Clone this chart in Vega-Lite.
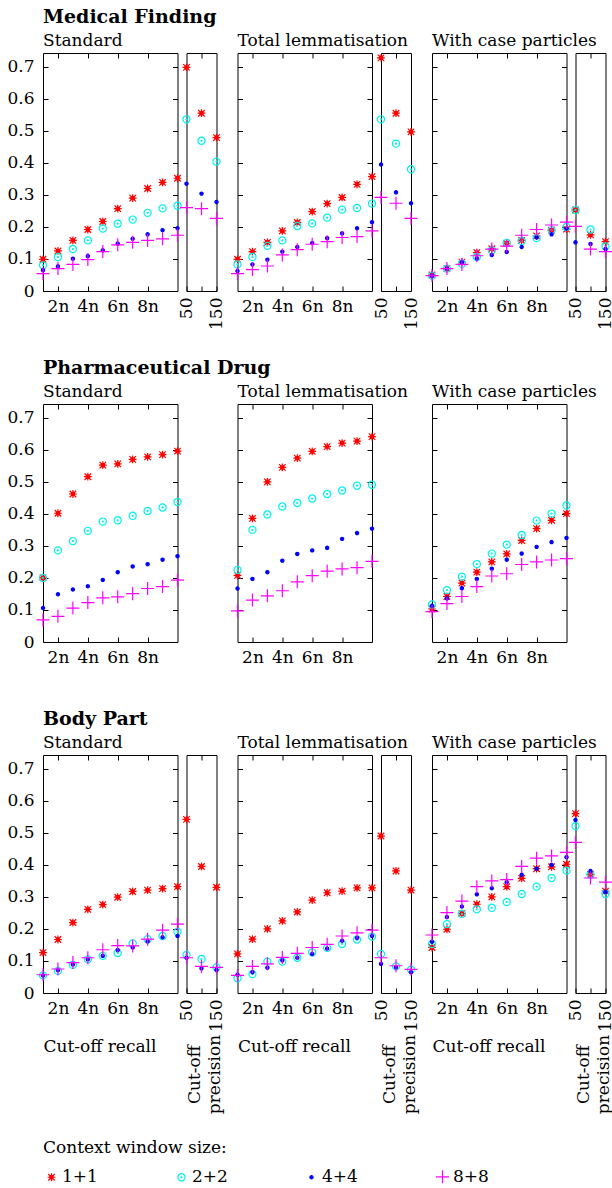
{
"$schema":"https://vega.github.io/schema/vega-lite/v6.json",
"background":"white",
"padding":{"left":6,"top":7,"right":0,"bottom":0},
"datasets":{"d":[
{"cat":"MF","method":"std","type":"recall","x":1,"1+1":0.099,"2+2":0.08,"4+4":0.065,"8+8":0.054},
{"cat":"MF","method":"std","type":"recall","x":2,"1+1":0.125,"2+2":0.106,"4+4":0.077,"8+8":0.07},
{"cat":"MF","method":"std","type":"recall","x":3,"1+1":0.158,"2+2":0.131,"4+4":0.101,"8+8":0.083},
{"cat":"MF","method":"std","type":"recall","x":4,"1+1":0.192,"2+2":0.158,"4+4":0.109,"8+8":0.098},
{"cat":"MF","method":"std","type":"recall","x":5,"1+1":0.217,"2+2":0.195,"4+4":0.127,"8+8":0.123},
{"cat":"MF","method":"std","type":"recall","x":6,"1+1":0.257,"2+2":0.21,"4+4":0.148,"8+8":0.144},
{"cat":"MF","method":"std","type":"recall","x":7,"1+1":0.29,"2+2":0.223,"4+4":0.163,"8+8":0.152},
{"cat":"MF","method":"std","type":"recall","x":8,"1+1":0.32,"2+2":0.244,"4+4":0.177,"8+8":0.158},
{"cat":"MF","method":"std","type":"recall","x":9,"1+1":0.339,"2+2":0.258,"4+4":0.19,"8+8":0.163},
{"cat":"MF","method":"std","type":"recall","x":10,"1+1":0.352,"2+2":0.266,"4+4":0.196,"8+8":0.174},
{"cat":"MF","method":"std","type":"precision","x":50,"1+1":0.698,"2+2":0.536,"4+4":0.335,"8+8":0.26},
{"cat":"MF","method":"std","type":"precision","x":100,"1+1":0.555,"2+2":0.469,"4+4":0.304,"8+8":0.257},
{"cat":"MF","method":"std","type":"precision","x":150,"1+1":0.479,"2+2":0.404,"4+4":0.278,"8+8":0.227},
{"cat":"MF","method":"lem","type":"recall","x":1,"1+1":0.099,"2+2":0.083,"4+4":0.0625,"8+8":0.054},
{"cat":"MF","method":"lem","type":"recall","x":2,"1+1":0.123,"2+2":0.106,"4+4":0.083,"8+8":0.067},
{"cat":"MF","method":"lem","type":"recall","x":3,"1+1":0.152,"2+2":0.141,"4+4":0.098,"8+8":0.078},
{"cat":"MF","method":"lem","type":"recall","x":4,"1+1":0.1875,"2+2":0.158,"4+4":0.123,"8+8":0.1125},
{"cat":"MF","method":"lem","type":"recall","x":5,"1+1":0.214,"2+2":0.203,"4+4":0.1375,"8+8":0.129},
{"cat":"MF","method":"lem","type":"recall","x":6,"1+1":0.248,"2+2":0.211,"4+4":0.15,"8+8":0.146},
{"cat":"MF","method":"lem","type":"recall","x":7,"1+1":0.273,"2+2":0.229,"4+4":0.165,"8+8":0.154},
{"cat":"MF","method":"lem","type":"recall","x":8,"1+1":0.292,"2+2":0.254,"4+4":0.18,"8+8":0.167},
{"cat":"MF","method":"lem","type":"recall","x":9,"1+1":0.333,"2+2":0.259,"4+4":0.196,"8+8":0.17},
{"cat":"MF","method":"lem","type":"recall","x":10,"1+1":0.357,"2+2":0.273,"4+4":0.215,"8+8":0.1875},
{"cat":"MF","method":"lem","type":"precision","x":50,"1+1":0.728,"2+2":0.536,"4+4":0.395,"8+8":0.292},
{"cat":"MF","method":"lem","type":"precision","x":100,"1+1":0.555,"2+2":0.46,"4+4":0.308,"8+8":0.274},
{"cat":"MF","method":"lem","type":"precision","x":150,"1+1":0.497,"2+2":0.38,"4+4":0.274,"8+8":0.227},
{"cat":"MF","method":"case","type":"recall","x":1,"1+1":0.05,"2+2":0.048,"4+4":0.047,"8+8":0.048},
{"cat":"MF","method":"case","type":"recall","x":2,"1+1":0.07,"2+2":0.07,"4+4":0.07,"8+8":0.07},
{"cat":"MF","method":"case","type":"recall","x":3,"1+1":0.09,"2+2":0.085,"4+4":0.09,"8+8":0.083},
{"cat":"MF","method":"case","type":"recall","x":4,"1+1":0.12,"2+2":0.106,"4+4":0.102,"8+8":0.11},
{"cat":"MF","method":"case","type":"recall","x":5,"1+1":0.132,"2+2":0.127,"4+4":0.1125,"8+8":0.131},
{"cat":"MF","method":"case","type":"recall","x":6,"1+1":0.149,"2+2":0.15,"4+4":0.122,"8+8":0.14},
{"cat":"MF","method":"case","type":"recall","x":7,"1+1":0.158,"2+2":0.156,"4+4":0.1375,"8+8":0.174},
{"cat":"MF","method":"case","type":"recall","x":8,"1+1":0.172,"2+2":0.165,"4+4":0.167,"8+8":0.192},
{"cat":"MF","method":"case","type":"recall","x":9,"1+1":0.19,"2+2":0.19,"4+4":0.177,"8+8":0.206},
{"cat":"MF","method":"case","type":"recall","x":10,"1+1":0.193,"2+2":0.2,"4+4":0.195,"8+8":0.215},
{"cat":"MF","method":"case","type":"precision","x":50,"1+1":0.253,"2+2":0.253,"4+4":0.152,"8+8":0.202},
{"cat":"MF","method":"case","type":"precision","x":100,"1+1":0.175,"2+2":0.192,"4+4":0.147,"8+8":0.131},
{"cat":"MF","method":"case","type":"precision","x":150,"1+1":0.154,"2+2":0.139,"4+4":0.131,"8+8":0.123},
{"cat":"PD","method":"std","type":"recall","x":1,"1+1":0.2,"2+2":0.2,"4+4":0.106,"8+8":0.069},
{"cat":"PD","method":"std","type":"recall","x":2,"1+1":0.402,"2+2":0.286,"4+4":0.149,"8+8":0.08},
{"cat":"PD","method":"std","type":"recall","x":3,"1+1":0.462,"2+2":0.315,"4+4":0.164,"8+8":0.106},
{"cat":"PD","method":"std","type":"recall","x":4,"1+1":0.516,"2+2":0.347,"4+4":0.174,"8+8":0.123},
{"cat":"PD","method":"std","type":"recall","x":5,"1+1":0.552,"2+2":0.376,"4+4":0.194,"8+8":0.138},
{"cat":"PD","method":"std","type":"recall","x":6,"1+1":0.556,"2+2":0.38,"4+4":0.218,"8+8":0.141},
{"cat":"PD","method":"std","type":"recall","x":7,"1+1":0.57,"2+2":0.394,"4+4":0.236,"8+8":0.151},
{"cat":"PD","method":"std","type":"recall","x":8,"1+1":0.578,"2+2":0.409,"4+4":0.243,"8+8":0.167},
{"cat":"PD","method":"std","type":"recall","x":9,"1+1":0.585,"2+2":0.42,"4+4":0.257,"8+8":0.173},
{"cat":"PD","method":"std","type":"recall","x":10,"1+1":0.596,"2+2":0.437,"4+4":0.268,"8+8":0.193},
{"cat":"PD","method":"lem","type":"recall","x":1,"1+1":0.208,"2+2":0.225,"4+4":0.167,"8+8":0.097},
{"cat":"PD","method":"lem","type":"recall","x":2,"1+1":0.386,"2+2":0.35,"4+4":0.197,"8+8":0.131},
{"cat":"PD","method":"lem","type":"recall","x":3,"1+1":0.5,"2+2":0.398,"4+4":0.218,"8+8":0.144},
{"cat":"PD","method":"lem","type":"recall","x":4,"1+1":0.545,"2+2":0.423,"4+4":0.254,"8+8":0.16},
{"cat":"PD","method":"lem","type":"recall","x":5,"1+1":0.574,"2+2":0.434,"4+4":0.275,"8+8":0.188},
{"cat":"PD","method":"lem","type":"recall","x":6,"1+1":0.595,"2+2":0.448,"4+4":0.286,"8+8":0.207},
{"cat":"PD","method":"lem","type":"recall","x":7,"1+1":0.61,"2+2":0.462,"4+4":0.294,"8+8":0.221},
{"cat":"PD","method":"lem","type":"recall","x":8,"1+1":0.621,"2+2":0.473,"4+4":0.322,"8+8":0.228},
{"cat":"PD","method":"lem","type":"recall","x":9,"1+1":0.627,"2+2":0.488,"4+4":0.34,"8+8":0.232},
{"cat":"PD","method":"lem","type":"recall","x":10,"1+1":0.641,"2+2":0.491,"4+4":0.354,"8+8":0.252},
{"cat":"PD","method":"case","type":"recall","x":1,"1+1":0.103,"2+2":0.117,"4+4":0.113,"8+8":0.095},
{"cat":"PD","method":"case","type":"recall","x":2,"1+1":0.142,"2+2":0.162,"4+4":0.136,"8+8":0.12},
{"cat":"PD","method":"case","type":"recall","x":3,"1+1":0.184,"2+2":0.204,"4+4":0.168,"8+8":0.142},
{"cat":"PD","method":"case","type":"recall","x":4,"1+1":0.218,"2+2":0.243,"4+4":0.197,"8+8":0.173},
{"cat":"PD","method":"case","type":"recall","x":5,"1+1":0.25,"2+2":0.276,"4+4":0.229,"8+8":0.206},
{"cat":"PD","method":"case","type":"recall","x":6,"1+1":0.275,"2+2":0.304,"4+4":0.257,"8+8":0.213},
{"cat":"PD","method":"case","type":"recall","x":7,"1+1":0.317,"2+2":0.334,"4+4":0.276,"8+8":0.242},
{"cat":"PD","method":"case","type":"recall","x":8,"1+1":0.354,"2+2":0.379,"4+4":0.297,"8+8":0.25},
{"cat":"PD","method":"case","type":"recall","x":9,"1+1":0.38,"2+2":0.401,"4+4":0.312,"8+8":0.256},
{"cat":"PD","method":"case","type":"recall","x":10,"1+1":0.401,"2+2":0.426,"4+4":0.325,"8+8":0.26},
{"cat":"BP","method":"std","type":"recall","x":1,"1+1":0.126,"2+2":0.055,"4+4":0.055,"8+8":0.057},
{"cat":"BP","method":"std","type":"recall","x":2,"1+1":0.167,"2+2":0.069,"4+4":0.071,"8+8":0.075},
{"cat":"BP","method":"std","type":"recall","x":3,"1+1":0.22,"2+2":0.088,"4+4":0.089,"8+8":0.095},
{"cat":"BP","method":"std","type":"recall","x":4,"1+1":0.261,"2+2":0.105,"4+4":0.105,"8+8":0.11},
{"cat":"BP","method":"std","type":"recall","x":5,"1+1":0.276,"2+2":0.116,"4+4":0.116,"8+8":0.135},
{"cat":"BP","method":"std","type":"recall","x":6,"1+1":0.299,"2+2":0.125,"4+4":0.134,"8+8":0.148},
{"cat":"BP","method":"std","type":"recall","x":7,"1+1":0.317,"2+2":0.155,"4+4":0.142,"8+8":0.147},
{"cat":"BP","method":"std","type":"recall","x":8,"1+1":0.321,"2+2":0.168,"4+4":0.161,"8+8":0.168},
{"cat":"BP","method":"std","type":"recall","x":9,"1+1":0.326,"2+2":0.178,"4+4":0.174,"8+8":0.196},
{"cat":"BP","method":"std","type":"recall","x":10,"1+1":0.332,"2+2":0.191,"4+4":0.178,"8+8":0.215},
{"cat":"BP","method":"std","type":"precision","x":50,"1+1":0.542,"2+2":0.119,"4+4":0.11,"8+8":0.11},
{"cat":"BP","method":"std","type":"precision","x":100,"1+1":0.395,"2+2":0.106,"4+4":0.077,"8+8":0.083},
{"cat":"BP","method":"std","type":"precision","x":150,"1+1":0.33,"2+2":0.08,"4+4":0.072,"8+8":0.08},
{"cat":"BP","method":"lem","type":"recall","x":1,"1+1":0.122,"2+2":0.046,"4+4":0.057,"8+8":0.055},
{"cat":"BP","method":"lem","type":"recall","x":2,"1+1":0.168,"2+2":0.059,"4+4":0.065,"8+8":0.083},
{"cat":"BP","method":"lem","type":"recall","x":3,"1+1":0.2,"2+2":0.098,"4+4":0.079,"8+8":0.091},
{"cat":"BP","method":"lem","type":"recall","x":4,"1+1":0.225,"2+2":0.098,"4+4":0.102,"8+8":0.111},
{"cat":"BP","method":"lem","type":"recall","x":5,"1+1":0.253,"2+2":0.11,"4+4":0.11,"8+8":0.124},
{"cat":"BP","method":"lem","type":"recall","x":6,"1+1":0.29,"2+2":0.127,"4+4":0.122,"8+8":0.142},
{"cat":"BP","method":"lem","type":"recall","x":7,"1+1":0.313,"2+2":0.141,"4+4":0.139,"8+8":0.152},
{"cat":"BP","method":"lem","type":"recall","x":8,"1+1":0.318,"2+2":0.153,"4+4":0.163,"8+8":0.178},
{"cat":"BP","method":"lem","type":"recall","x":9,"1+1":0.328,"2+2":0.167,"4+4":0.172,"8+8":0.188},
{"cat":"BP","method":"lem","type":"recall","x":10,"1+1":0.328,"2+2":0.176,"4+4":0.178,"8+8":0.196},
{"cat":"BP","method":"lem","type":"precision","x":50,"1+1":0.49,"2+2":0.122,"4+4":0.091,"8+8":0.11},
{"cat":"BP","method":"lem","type":"precision","x":100,"1+1":0.381,"2+2":0.083,"4+4":0.08,"8+8":0.085},
{"cat":"BP","method":"lem","type":"precision","x":150,"1+1":0.321,"2+2":0.073,"4+4":0.065,"8+8":0.074},
{"cat":"BP","method":"case","type":"recall","x":1,"1+1":0.142,"2+2":0.153,"4+4":0.16,"8+8":0.181},
{"cat":"BP","method":"case","type":"recall","x":2,"1+1":0.199,"2+2":0.215,"4+4":0.237,"8+8":0.251},
{"cat":"BP","method":"case","type":"recall","x":3,"1+1":0.248,"2+2":0.247,"4+4":0.27,"8+8":0.287},
{"cat":"BP","method":"case","type":"recall","x":4,"1+1":0.277,"2+2":0.261,"4+4":0.308,"8+8":0.332},
{"cat":"BP","method":"case","type":"recall","x":5,"1+1":0.3,"2+2":0.266,"4+4":0.327,"8+8":0.35},
{"cat":"BP","method":"case","type":"recall","x":6,"1+1":0.332,"2+2":0.284,"4+4":0.346,"8+8":0.354},
{"cat":"BP","method":"case","type":"recall","x":7,"1+1":0.358,"2+2":0.309,"4+4":0.369,"8+8":0.395},
{"cat":"BP","method":"case","type":"recall","x":8,"1+1":0.388,"2+2":0.332,"4+4":0.388,"8+8":0.421},
{"cat":"BP","method":"case","type":"recall","x":9,"1+1":0.394,"2+2":0.359,"4+4":0.4,"8+8":0.428},
{"cat":"BP","method":"case","type":"recall","x":10,"1+1":0.402,"2+2":0.382,"4+4":0.424,"8+8":0.439},
{"cat":"BP","method":"case","type":"precision","x":50,"1+1":0.56,"2+2":0.521,"4+4":0.54,"8+8":0.47},
{"cat":"BP","method":"case","type":"precision","x":100,"1+1":0.37,"2+2":0.37,"4+4":0.381,"8+8":0.359},
{"cat":"BP","method":"case","type":"precision","x":150,"1+1":0.318,"2+2":0.309,"4+4":0.315,"8+8":0.346}
]},
"bounds":"flush",
"columns":8,
"spacing":{"row":113,"column":8.5},
"concat":[
{"title":{"text":"Medical Finding","subtitle":"Standard"},"width":134.5,"height":238,"data":{"name":"d"},
"transform":[{"filter":"datum.cat=='MF'&&datum.method=='std'&&datum.type=='recall'"},{"fold":["1+1","2+2","4+4","8+8"],"as":["window","score"]}],
"layer":[
{"mark":{"type":"point","filled":true,"size":169,"strokeWidth":1.2,"opacity":1},
"encoding":{
"x":{"field":"x","type":"quantitative","scale":{"domain":[1,10],"nice":false,"zero":false},"axis":{"orient":"bottom","values":[2,4,6,8],"labelExpr":"datum.value+'n'","title":null}},
"y":{"field":"score","type":"quantitative","scale":{"domain":[0,0.743],"nice":false},"axis":{"orient":"left","values":[0,0.1,0.2,0.3,0.4,0.5,0.6,0.7],"format":"~g","title":null}},
"stroke":{"field":"window","type":"nominal","title":"Context window size:","scale":{"domain":["1+1","2+2","4+4","8+8"],"range":["#ff0000","#00f0f0","#0000ff","#ff00ff"]},"legend":{"orient":"none","legendX":0,"legendY":1087,"direction":"horizontal","columns":4,"columnPadding":75,"symbolSize":169,"symbolStrokeWidth":1.2,"labelFont":"DejaVu Serif","labelFontSize":17,"labelColor":"#000","titleFont":"DejaVu Serif","titleFontSize":17,"titleFontWeight":"normal","titleColor":"#000","titlePadding":11,"labelOffset":2,"titleLimit":0}},
"fill":{"field":"window","type":"nominal","title":"Context window size:","scale":{"domain":["1+1","2+2","4+4","8+8"],"range":["transparent","transparent","#0000ff","transparent"]},"legend":{"orient":"none","legendX":0,"legendY":1087,"direction":"horizontal","columns":4,"columnPadding":75,"symbolSize":169,"symbolStrokeWidth":1.2,"labelFont":"DejaVu Serif","labelFontSize":17,"labelColor":"#000","titleFont":"DejaVu Serif","titleFontSize":17,"titleFontWeight":"normal","titleColor":"#000","titlePadding":11,"labelOffset":2,"titleLimit":0}},
"shape":{"field":"window","type":"nominal","title":"Context window size:","scale":{"domain":["1+1","2+2","4+4","8+8"],"range":["M-0.5,-0.5L0.5,0.5M-0.5,0.5L0.5,-0.5M-0.6,0L0.6,0M0,-0.6L0,0.6M-0.25,-0.25L0.25,-0.25L0.25,0.25L-0.25,0.25Z","M0.55,0A0.55,0.55,0,1,1,-0.55,0A0.55,0.55,0,1,1,0.55,0ZM0.08,0A0.08,0.08,0,1,1,-0.08,0A0.08,0.08,0,1,1,0.08,0Z","M0.25,0A0.25,0.25,0,1,1,-0.25,0A0.25,0.25,0,1,1,0.25,0Z","M-1,0L1,0M0,-1L0,1"]},"legend":{"orient":"none","legendX":0,"legendY":1087,"direction":"horizontal","columns":4,"columnPadding":75,"symbolSize":169,"symbolStrokeWidth":1.2,"labelFont":"DejaVu Serif","labelFontSize":17,"labelColor":"#000","titleFont":"DejaVu Serif","titleFontSize":17,"titleFontWeight":"normal","titleColor":"#000","titlePadding":11,"labelOffset":2,"titleLimit":0}}}},
{"mark":{"type":"point","opacity":0},"encoding":{"x":{"field":"x","type":"quantitative","axis":{"orient":"top","values":[2,4,6,8],"labels":false,"title":null}},"y":{"field":"score","type":"quantitative","axis":{"orient":"right","values":[0.1,0.2,0.3,0.4,0.5,0.6,0.7],"labels":false,"title":null}}}}
],"resolve":{"axis":{"x":"independent","y":"independent"}}},
{"width":30,"height":238,"data":{"name":"d"},
"transform":[{"filter":"datum.cat=='MF'&&datum.method=='std'&&datum.type=='precision'"},{"fold":["1+1","2+2","4+4","8+8"],"as":["window","score"]}],
"layer":[
{"mark":{"type":"point","filled":true,"size":169,"strokeWidth":1.2,"opacity":1},
"encoding":{
"x":{"field":"x","type":"quantitative","scale":{"domain":[50,150],"nice":false,"zero":false},"axis":{"orient":"bottom","values":[50,100,150],"labelAngle":270,"labelPadding":11,"labelExpr":"datum.value==100?'':datum.label","title":null}},
"y":{"field":"score","type":"quantitative","scale":{"domain":[0,0.743],"nice":false},"axis":null},
"stroke":{"field":"window","type":"nominal","title":"Context window size:","scale":{"domain":["1+1","2+2","4+4","8+8"],"range":["#ff0000","#00f0f0","#0000ff","#ff00ff"]}},
"fill":{"field":"window","type":"nominal","title":"Context window size:","scale":{"domain":["1+1","2+2","4+4","8+8"],"range":["transparent","transparent","#0000ff","transparent"]}},
"shape":{"field":"window","type":"nominal","title":"Context window size:","scale":{"domain":["1+1","2+2","4+4","8+8"],"range":["M-0.5,-0.5L0.5,0.5M-0.5,0.5L0.5,-0.5M-0.6,0L0.6,0M0,-0.6L0,0.6M-0.25,-0.25L0.25,-0.25L0.25,0.25L-0.25,0.25Z","M0.55,0A0.55,0.55,0,1,1,-0.55,0A0.55,0.55,0,1,1,0.55,0ZM0.08,0A0.08,0.08,0,1,1,-0.08,0A0.08,0.08,0,1,1,0.08,0Z","M0.25,0A0.25,0.25,0,1,1,-0.25,0A0.25,0.25,0,1,1,0.25,0Z","M-1,0L1,0M0,-1L0,1"]}}}},
{"mark":{"type":"point","opacity":0},"encoding":{"x":{"field":"x","type":"quantitative","axis":{"orient":"top","values":[100],"labels":false,"title":null}}}}
],"resolve":{"axis":{"x":"independent"}}},
{"width":4,"height":238,"data":{"values":[{}]},"mark":{"type":"point","opacity":0},"encoding":{},"view":{"stroke":null}},
{"title":{"text":" ","subtitle":"Total lemmatisation"},"width":134.5,"height":238,"data":{"name":"d"},
"transform":[{"filter":"datum.cat=='MF'&&datum.method=='lem'&&datum.type=='recall'"},{"fold":["1+1","2+2","4+4","8+8"],"as":["window","score"]}],
"layer":[
{"mark":{"type":"point","filled":true,"size":169,"strokeWidth":1.2,"opacity":1},
"encoding":{
"x":{"field":"x","type":"quantitative","scale":{"domain":[1,10],"nice":false,"zero":false},"axis":{"orient":"bottom","values":[2,4,6,8],"labelExpr":"datum.value+'n'","title":null}},
"y":{"field":"score","type":"quantitative","scale":{"domain":[0,0.743],"nice":false},"axis":{"orient":"left","values":[0.1,0.2,0.3,0.4,0.5,0.6,0.7],"labels":false,"title":null}},
"stroke":{"field":"window","type":"nominal","title":"Context window size:","scale":{"domain":["1+1","2+2","4+4","8+8"],"range":["#ff0000","#00f0f0","#0000ff","#ff00ff"]}},
"fill":{"field":"window","type":"nominal","title":"Context window size:","scale":{"domain":["1+1","2+2","4+4","8+8"],"range":["transparent","transparent","#0000ff","transparent"]}},
"shape":{"field":"window","type":"nominal","title":"Context window size:","scale":{"domain":["1+1","2+2","4+4","8+8"],"range":["M-0.5,-0.5L0.5,0.5M-0.5,0.5L0.5,-0.5M-0.6,0L0.6,0M0,-0.6L0,0.6M-0.25,-0.25L0.25,-0.25L0.25,0.25L-0.25,0.25Z","M0.55,0A0.55,0.55,0,1,1,-0.55,0A0.55,0.55,0,1,1,0.55,0ZM0.08,0A0.08,0.08,0,1,1,-0.08,0A0.08,0.08,0,1,1,0.08,0Z","M0.25,0A0.25,0.25,0,1,1,-0.25,0A0.25,0.25,0,1,1,0.25,0Z","M-1,0L1,0M0,-1L0,1"]}}}},
{"mark":{"type":"point","opacity":0},"encoding":{"x":{"field":"x","type":"quantitative","axis":{"orient":"top","values":[2,4,6,8],"labels":false,"title":null}},"y":{"field":"score","type":"quantitative","axis":{"orient":"right","values":[0.1,0.2,0.3,0.4,0.5,0.6,0.7],"labels":false,"title":null}}}}
],"resolve":{"axis":{"x":"independent","y":"independent"}}},
{"width":30,"height":238,"data":{"name":"d"},
"transform":[{"filter":"datum.cat=='MF'&&datum.method=='lem'&&datum.type=='precision'"},{"fold":["1+1","2+2","4+4","8+8"],"as":["window","score"]}],
"layer":[
{"mark":{"type":"point","filled":true,"size":169,"strokeWidth":1.2,"opacity":1},
"encoding":{
"x":{"field":"x","type":"quantitative","scale":{"domain":[50,150],"nice":false,"zero":false},"axis":{"orient":"bottom","values":[50,100,150],"labelAngle":270,"labelPadding":11,"labelExpr":"datum.value==100?'':datum.label","title":null}},
"y":{"field":"score","type":"quantitative","scale":{"domain":[0,0.743],"nice":false},"axis":null},
"stroke":{"field":"window","type":"nominal","title":"Context window size:","scale":{"domain":["1+1","2+2","4+4","8+8"],"range":["#ff0000","#00f0f0","#0000ff","#ff00ff"]}},
"fill":{"field":"window","type":"nominal","title":"Context window size:","scale":{"domain":["1+1","2+2","4+4","8+8"],"range":["transparent","transparent","#0000ff","transparent"]}},
"shape":{"field":"window","type":"nominal","title":"Context window size:","scale":{"domain":["1+1","2+2","4+4","8+8"],"range":["M-0.5,-0.5L0.5,0.5M-0.5,0.5L0.5,-0.5M-0.6,0L0.6,0M0,-0.6L0,0.6M-0.25,-0.25L0.25,-0.25L0.25,0.25L-0.25,0.25Z","M0.55,0A0.55,0.55,0,1,1,-0.55,0A0.55,0.55,0,1,1,0.55,0ZM0.08,0A0.08,0.08,0,1,1,-0.08,0A0.08,0.08,0,1,1,0.08,0Z","M0.25,0A0.25,0.25,0,1,1,-0.25,0A0.25,0.25,0,1,1,0.25,0Z","M-1,0L1,0M0,-1L0,1"]}}}},
{"mark":{"type":"point","opacity":0},"encoding":{"x":{"field":"x","type":"quantitative","axis":{"orient":"top","values":[100],"labels":false,"title":null}}}}
],"resolve":{"axis":{"x":"independent"}}},
{"width":4,"height":238,"data":{"values":[{}]},"mark":{"type":"point","opacity":0},"encoding":{},"view":{"stroke":null}},
{"title":{"text":" ","subtitle":"With case particles"},"width":134.5,"height":238,"data":{"name":"d"},
"transform":[{"filter":"datum.cat=='MF'&&datum.method=='case'&&datum.type=='recall'"},{"fold":["1+1","2+2","4+4","8+8"],"as":["window","score"]}],
"layer":[
{"mark":{"type":"point","filled":true,"size":169,"strokeWidth":1.2,"opacity":1},
"encoding":{
"x":{"field":"x","type":"quantitative","scale":{"domain":[1,10],"nice":false,"zero":false},"axis":{"orient":"bottom","values":[2,4,6,8],"labelExpr":"datum.value+'n'","title":null}},
"y":{"field":"score","type":"quantitative","scale":{"domain":[0,0.743],"nice":false},"axis":{"orient":"left","values":[0.1,0.2,0.3,0.4,0.5,0.6,0.7],"labels":false,"title":null}},
"stroke":{"field":"window","type":"nominal","title":"Context window size:","scale":{"domain":["1+1","2+2","4+4","8+8"],"range":["#ff0000","#00f0f0","#0000ff","#ff00ff"]}},
"fill":{"field":"window","type":"nominal","title":"Context window size:","scale":{"domain":["1+1","2+2","4+4","8+8"],"range":["transparent","transparent","#0000ff","transparent"]}},
"shape":{"field":"window","type":"nominal","title":"Context window size:","scale":{"domain":["1+1","2+2","4+4","8+8"],"range":["M-0.5,-0.5L0.5,0.5M-0.5,0.5L0.5,-0.5M-0.6,0L0.6,0M0,-0.6L0,0.6M-0.25,-0.25L0.25,-0.25L0.25,0.25L-0.25,0.25Z","M0.55,0A0.55,0.55,0,1,1,-0.55,0A0.55,0.55,0,1,1,0.55,0ZM0.08,0A0.08,0.08,0,1,1,-0.08,0A0.08,0.08,0,1,1,0.08,0Z","M0.25,0A0.25,0.25,0,1,1,-0.25,0A0.25,0.25,0,1,1,0.25,0Z","M-1,0L1,0M0,-1L0,1"]}}}},
{"mark":{"type":"point","opacity":0},"encoding":{"x":{"field":"x","type":"quantitative","axis":{"orient":"top","values":[2,4,6,8],"labels":false,"title":null}},"y":{"field":"score","type":"quantitative","axis":{"orient":"right","values":[0.1,0.2,0.3,0.4,0.5,0.6,0.7],"labels":false,"title":null}}}}
],"resolve":{"axis":{"x":"independent","y":"independent"}}},
{"width":30,"height":238,"data":{"name":"d"},
"transform":[{"filter":"datum.cat=='MF'&&datum.method=='case'&&datum.type=='precision'"},{"fold":["1+1","2+2","4+4","8+8"],"as":["window","score"]}],
"layer":[
{"mark":{"type":"point","filled":true,"size":169,"strokeWidth":1.2,"opacity":1},
"encoding":{
"x":{"field":"x","type":"quantitative","scale":{"domain":[50,150],"nice":false,"zero":false},"axis":{"orient":"bottom","values":[50,100,150],"labelAngle":270,"labelPadding":11,"labelExpr":"datum.value==100?'':datum.label","title":null}},
"y":{"field":"score","type":"quantitative","scale":{"domain":[0,0.743],"nice":false},"axis":null},
"stroke":{"field":"window","type":"nominal","title":"Context window size:","scale":{"domain":["1+1","2+2","4+4","8+8"],"range":["#ff0000","#00f0f0","#0000ff","#ff00ff"]}},
"fill":{"field":"window","type":"nominal","title":"Context window size:","scale":{"domain":["1+1","2+2","4+4","8+8"],"range":["transparent","transparent","#0000ff","transparent"]}},
"shape":{"field":"window","type":"nominal","title":"Context window size:","scale":{"domain":["1+1","2+2","4+4","8+8"],"range":["M-0.5,-0.5L0.5,0.5M-0.5,0.5L0.5,-0.5M-0.6,0L0.6,0M0,-0.6L0,0.6M-0.25,-0.25L0.25,-0.25L0.25,0.25L-0.25,0.25Z","M0.55,0A0.55,0.55,0,1,1,-0.55,0A0.55,0.55,0,1,1,0.55,0ZM0.08,0A0.08,0.08,0,1,1,-0.08,0A0.08,0.08,0,1,1,0.08,0Z","M0.25,0A0.25,0.25,0,1,1,-0.25,0A0.25,0.25,0,1,1,0.25,0Z","M-1,0L1,0M0,-1L0,1"]}}}},
{"mark":{"type":"point","opacity":0},"encoding":{"x":{"field":"x","type":"quantitative","axis":{"orient":"top","values":[100],"labels":false,"title":null}}}}
],"resolve":{"axis":{"x":"independent"}}},

{"title":{"text":"Pharmaceutical Drug","subtitle":"Standard"},"width":134.5,"height":238,"data":{"name":"d"},
"transform":[{"filter":"datum.cat=='PD'&&datum.method=='std'&&datum.type=='recall'"},{"fold":["1+1","2+2","4+4","8+8"],"as":["window","score"]}],
"layer":[
{"mark":{"type":"point","filled":true,"size":169,"strokeWidth":1.2,"opacity":1},
"encoding":{
"x":{"field":"x","type":"quantitative","scale":{"domain":[1,10],"nice":false,"zero":false},"axis":{"orient":"bottom","values":[2,4,6,8],"labelExpr":"datum.value+'n'","title":null}},
"y":{"field":"score","type":"quantitative","scale":{"domain":[0,0.743],"nice":false},"axis":{"orient":"left","values":[0,0.1,0.2,0.3,0.4,0.5,0.6,0.7],"format":"~g","title":null}},
"stroke":{"field":"window","type":"nominal","title":"Context window size:","scale":{"domain":["1+1","2+2","4+4","8+8"],"range":["#ff0000","#00f0f0","#0000ff","#ff00ff"]}},
"fill":{"field":"window","type":"nominal","title":"Context window size:","scale":{"domain":["1+1","2+2","4+4","8+8"],"range":["transparent","transparent","#0000ff","transparent"]}},
"shape":{"field":"window","type":"nominal","title":"Context window size:","scale":{"domain":["1+1","2+2","4+4","8+8"],"range":["M-0.5,-0.5L0.5,0.5M-0.5,0.5L0.5,-0.5M-0.6,0L0.6,0M0,-0.6L0,0.6M-0.25,-0.25L0.25,-0.25L0.25,0.25L-0.25,0.25Z","M0.55,0A0.55,0.55,0,1,1,-0.55,0A0.55,0.55,0,1,1,0.55,0ZM0.08,0A0.08,0.08,0,1,1,-0.08,0A0.08,0.08,0,1,1,0.08,0Z","M0.25,0A0.25,0.25,0,1,1,-0.25,0A0.25,0.25,0,1,1,0.25,0Z","M-1,0L1,0M0,-1L0,1"]}}}},
{"mark":{"type":"point","opacity":0},"encoding":{"x":{"field":"x","type":"quantitative","axis":{"orient":"top","values":[2,4,6,8],"labels":false,"title":null}},"y":{"field":"score","type":"quantitative","axis":{"orient":"right","values":[0.1,0.2,0.3,0.4,0.5,0.6,0.7],"labels":false,"title":null}}}}
],"resolve":{"axis":{"x":"independent","y":"independent"}}},
{"width":30,"height":238,"data":{"values":[{}]},"mark":{"type":"point","opacity":0},"encoding":{},"view":{"stroke":null}},
{"width":4,"height":238,"data":{"values":[{}]},"mark":{"type":"point","opacity":0},"encoding":{},"view":{"stroke":null}},
{"title":{"text":" ","subtitle":"Total lemmatisation"},"width":134.5,"height":238,"data":{"name":"d"},
"transform":[{"filter":"datum.cat=='PD'&&datum.method=='lem'&&datum.type=='recall'"},{"fold":["1+1","2+2","4+4","8+8"],"as":["window","score"]}],
"layer":[
{"mark":{"type":"point","filled":true,"size":169,"strokeWidth":1.2,"opacity":1},
"encoding":{
"x":{"field":"x","type":"quantitative","scale":{"domain":[1,10],"nice":false,"zero":false},"axis":{"orient":"bottom","values":[2,4,6,8],"labelExpr":"datum.value+'n'","title":null}},
"y":{"field":"score","type":"quantitative","scale":{"domain":[0,0.743],"nice":false},"axis":{"orient":"left","values":[0.1,0.2,0.3,0.4,0.5,0.6,0.7],"labels":false,"title":null}},
"stroke":{"field":"window","type":"nominal","title":"Context window size:","scale":{"domain":["1+1","2+2","4+4","8+8"],"range":["#ff0000","#00f0f0","#0000ff","#ff00ff"]}},
"fill":{"field":"window","type":"nominal","title":"Context window size:","scale":{"domain":["1+1","2+2","4+4","8+8"],"range":["transparent","transparent","#0000ff","transparent"]}},
"shape":{"field":"window","type":"nominal","title":"Context window size:","scale":{"domain":["1+1","2+2","4+4","8+8"],"range":["M-0.5,-0.5L0.5,0.5M-0.5,0.5L0.5,-0.5M-0.6,0L0.6,0M0,-0.6L0,0.6M-0.25,-0.25L0.25,-0.25L0.25,0.25L-0.25,0.25Z","M0.55,0A0.55,0.55,0,1,1,-0.55,0A0.55,0.55,0,1,1,0.55,0ZM0.08,0A0.08,0.08,0,1,1,-0.08,0A0.08,0.08,0,1,1,0.08,0Z","M0.25,0A0.25,0.25,0,1,1,-0.25,0A0.25,0.25,0,1,1,0.25,0Z","M-1,0L1,0M0,-1L0,1"]}}}},
{"mark":{"type":"point","opacity":0},"encoding":{"x":{"field":"x","type":"quantitative","axis":{"orient":"top","values":[2,4,6,8],"labels":false,"title":null}},"y":{"field":"score","type":"quantitative","axis":{"orient":"right","values":[0.1,0.2,0.3,0.4,0.5,0.6,0.7],"labels":false,"title":null}}}}
],"resolve":{"axis":{"x":"independent","y":"independent"}}},
{"width":30,"height":238,"data":{"values":[{}]},"mark":{"type":"point","opacity":0},"encoding":{},"view":{"stroke":null}},
{"width":4,"height":238,"data":{"values":[{}]},"mark":{"type":"point","opacity":0},"encoding":{},"view":{"stroke":null}},
{"title":{"text":" ","subtitle":"With case particles"},"width":134.5,"height":238,"data":{"name":"d"},
"transform":[{"filter":"datum.cat=='PD'&&datum.method=='case'&&datum.type=='recall'"},{"fold":["1+1","2+2","4+4","8+8"],"as":["window","score"]}],
"layer":[
{"mark":{"type":"point","filled":true,"size":169,"strokeWidth":1.2,"opacity":1},
"encoding":{
"x":{"field":"x","type":"quantitative","scale":{"domain":[1,10],"nice":false,"zero":false},"axis":{"orient":"bottom","values":[2,4,6,8],"labelExpr":"datum.value+'n'","title":null}},
"y":{"field":"score","type":"quantitative","scale":{"domain":[0,0.743],"nice":false},"axis":{"orient":"left","values":[0.1,0.2,0.3,0.4,0.5,0.6,0.7],"labels":false,"title":null}},
"stroke":{"field":"window","type":"nominal","title":"Context window size:","scale":{"domain":["1+1","2+2","4+4","8+8"],"range":["#ff0000","#00f0f0","#0000ff","#ff00ff"]}},
"fill":{"field":"window","type":"nominal","title":"Context window size:","scale":{"domain":["1+1","2+2","4+4","8+8"],"range":["transparent","transparent","#0000ff","transparent"]}},
"shape":{"field":"window","type":"nominal","title":"Context window size:","scale":{"domain":["1+1","2+2","4+4","8+8"],"range":["M-0.5,-0.5L0.5,0.5M-0.5,0.5L0.5,-0.5M-0.6,0L0.6,0M0,-0.6L0,0.6M-0.25,-0.25L0.25,-0.25L0.25,0.25L-0.25,0.25Z","M0.55,0A0.55,0.55,0,1,1,-0.55,0A0.55,0.55,0,1,1,0.55,0ZM0.08,0A0.08,0.08,0,1,1,-0.08,0A0.08,0.08,0,1,1,0.08,0Z","M0.25,0A0.25,0.25,0,1,1,-0.25,0A0.25,0.25,0,1,1,0.25,0Z","M-1,0L1,0M0,-1L0,1"]}}}},
{"mark":{"type":"point","opacity":0},"encoding":{"x":{"field":"x","type":"quantitative","axis":{"orient":"top","values":[2,4,6,8],"labels":false,"title":null}},"y":{"field":"score","type":"quantitative","axis":{"orient":"right","values":[0.1,0.2,0.3,0.4,0.5,0.6,0.7],"labels":false,"title":null}}}}
],"resolve":{"axis":{"x":"independent","y":"independent"}}},
{"width":30,"height":238,"data":{"values":[{}]},"mark":{"type":"point","opacity":0},"encoding":{},"view":{"stroke":null}},

{"title":{"text":"Body Part","subtitle":"Standard"},"width":134.5,"height":238,"data":{"name":"d"},
"transform":[{"filter":"datum.cat=='BP'&&datum.method=='std'&&datum.type=='recall'"},{"fold":["1+1","2+2","4+4","8+8"],"as":["window","score"]}],
"layer":[
{"mark":{"type":"point","filled":true,"size":169,"strokeWidth":1.2,"opacity":1},
"encoding":{
"x":{"field":"x","type":"quantitative","scale":{"domain":[1,10],"nice":false,"zero":false},"axis":{"orient":"bottom","values":[2,4,6,8],"labelExpr":"datum.value+'n'","title":"Cut-off recall","titleX":0,"titleY":58,"titleAlign":"left","titleBaseline":"alphabetic","titleAnchor":"start"}},
"y":{"field":"score","type":"quantitative","scale":{"domain":[0,0.743],"nice":false},"axis":{"orient":"left","values":[0,0.1,0.2,0.3,0.4,0.5,0.6,0.7],"format":"~g","title":null}},
"stroke":{"field":"window","type":"nominal","title":"Context window size:","scale":{"domain":["1+1","2+2","4+4","8+8"],"range":["#ff0000","#00f0f0","#0000ff","#ff00ff"]}},
"fill":{"field":"window","type":"nominal","title":"Context window size:","scale":{"domain":["1+1","2+2","4+4","8+8"],"range":["transparent","transparent","#0000ff","transparent"]}},
"shape":{"field":"window","type":"nominal","title":"Context window size:","scale":{"domain":["1+1","2+2","4+4","8+8"],"range":["M-0.5,-0.5L0.5,0.5M-0.5,0.5L0.5,-0.5M-0.6,0L0.6,0M0,-0.6L0,0.6M-0.25,-0.25L0.25,-0.25L0.25,0.25L-0.25,0.25Z","M0.55,0A0.55,0.55,0,1,1,-0.55,0A0.55,0.55,0,1,1,0.55,0ZM0.08,0A0.08,0.08,0,1,1,-0.08,0A0.08,0.08,0,1,1,0.08,0Z","M0.25,0A0.25,0.25,0,1,1,-0.25,0A0.25,0.25,0,1,1,0.25,0Z","M-1,0L1,0M0,-1L0,1"]}}}},
{"mark":{"type":"point","opacity":0},"encoding":{"x":{"field":"x","type":"quantitative","axis":{"orient":"top","values":[2,4,6,8],"labels":false,"title":null}},"y":{"field":"score","type":"quantitative","axis":{"orient":"right","values":[0.1,0.2,0.3,0.4,0.5,0.6,0.7],"labels":false,"title":null}}}}
],"resolve":{"axis":{"x":"independent","y":"independent"}}},
{"width":30,"height":238,"data":{"name":"d"},
"transform":[{"filter":"datum.cat=='BP'&&datum.method=='std'&&datum.type=='precision'"},{"fold":["1+1","2+2","4+4","8+8"],"as":["window","score"]}],
"layer":[
{"mark":{"type":"point","filled":true,"size":169,"strokeWidth":1.2,"opacity":1},
"encoding":{
"x":{"field":"x","type":"quantitative","scale":{"domain":[50,150],"nice":false,"zero":false},"axis":{"orient":"bottom","values":[50,100,150],"labelAngle":270,"labelPadding":11,"labelExpr":"datum.value==100?'':datum.label","title":["Cut-off","precision"],"titleAngle":270,"titleX":0,"titleY":81,"titleAlign":"center","titleBaseline":"top","titleLineHeight":20}},
"y":{"field":"score","type":"quantitative","scale":{"domain":[0,0.743],"nice":false},"axis":null},
"stroke":{"field":"window","type":"nominal","title":"Context window size:","scale":{"domain":["1+1","2+2","4+4","8+8"],"range":["#ff0000","#00f0f0","#0000ff","#ff00ff"]}},
"fill":{"field":"window","type":"nominal","title":"Context window size:","scale":{"domain":["1+1","2+2","4+4","8+8"],"range":["transparent","transparent","#0000ff","transparent"]}},
"shape":{"field":"window","type":"nominal","title":"Context window size:","scale":{"domain":["1+1","2+2","4+4","8+8"],"range":["M-0.5,-0.5L0.5,0.5M-0.5,0.5L0.5,-0.5M-0.6,0L0.6,0M0,-0.6L0,0.6M-0.25,-0.25L0.25,-0.25L0.25,0.25L-0.25,0.25Z","M0.55,0A0.55,0.55,0,1,1,-0.55,0A0.55,0.55,0,1,1,0.55,0ZM0.08,0A0.08,0.08,0,1,1,-0.08,0A0.08,0.08,0,1,1,0.08,0Z","M0.25,0A0.25,0.25,0,1,1,-0.25,0A0.25,0.25,0,1,1,0.25,0Z","M-1,0L1,0M0,-1L0,1"]}}}},
{"mark":{"type":"point","opacity":0},"encoding":{"x":{"field":"x","type":"quantitative","axis":{"orient":"top","values":[100],"labels":false,"title":null}}}}
],"resolve":{"axis":{"x":"independent"}}},
{"width":4,"height":238,"data":{"values":[{}]},"mark":{"type":"point","opacity":0},"encoding":{},"view":{"stroke":null}},
{"title":{"text":" ","subtitle":"Total lemmatisation"},"width":134.5,"height":238,"data":{"name":"d"},
"transform":[{"filter":"datum.cat=='BP'&&datum.method=='lem'&&datum.type=='recall'"},{"fold":["1+1","2+2","4+4","8+8"],"as":["window","score"]}],
"layer":[
{"mark":{"type":"point","filled":true,"size":169,"strokeWidth":1.2,"opacity":1},
"encoding":{
"x":{"field":"x","type":"quantitative","scale":{"domain":[1,10],"nice":false,"zero":false},"axis":{"orient":"bottom","values":[2,4,6,8],"labelExpr":"datum.value+'n'","title":"Cut-off recall","titleX":0,"titleY":58,"titleAlign":"left","titleBaseline":"alphabetic","titleAnchor":"start"}},
"y":{"field":"score","type":"quantitative","scale":{"domain":[0,0.743],"nice":false},"axis":{"orient":"left","values":[0.1,0.2,0.3,0.4,0.5,0.6,0.7],"labels":false,"title":null}},
"stroke":{"field":"window","type":"nominal","title":"Context window size:","scale":{"domain":["1+1","2+2","4+4","8+8"],"range":["#ff0000","#00f0f0","#0000ff","#ff00ff"]}},
"fill":{"field":"window","type":"nominal","title":"Context window size:","scale":{"domain":["1+1","2+2","4+4","8+8"],"range":["transparent","transparent","#0000ff","transparent"]}},
"shape":{"field":"window","type":"nominal","title":"Context window size:","scale":{"domain":["1+1","2+2","4+4","8+8"],"range":["M-0.5,-0.5L0.5,0.5M-0.5,0.5L0.5,-0.5M-0.6,0L0.6,0M0,-0.6L0,0.6M-0.25,-0.25L0.25,-0.25L0.25,0.25L-0.25,0.25Z","M0.55,0A0.55,0.55,0,1,1,-0.55,0A0.55,0.55,0,1,1,0.55,0ZM0.08,0A0.08,0.08,0,1,1,-0.08,0A0.08,0.08,0,1,1,0.08,0Z","M0.25,0A0.25,0.25,0,1,1,-0.25,0A0.25,0.25,0,1,1,0.25,0Z","M-1,0L1,0M0,-1L0,1"]}}}},
{"mark":{"type":"point","opacity":0},"encoding":{"x":{"field":"x","type":"quantitative","axis":{"orient":"top","values":[2,4,6,8],"labels":false,"title":null}},"y":{"field":"score","type":"quantitative","axis":{"orient":"right","values":[0.1,0.2,0.3,0.4,0.5,0.6,0.7],"labels":false,"title":null}}}}
],"resolve":{"axis":{"x":"independent","y":"independent"}}},
{"width":30,"height":238,"data":{"name":"d"},
"transform":[{"filter":"datum.cat=='BP'&&datum.method=='lem'&&datum.type=='precision'"},{"fold":["1+1","2+2","4+4","8+8"],"as":["window","score"]}],
"layer":[
{"mark":{"type":"point","filled":true,"size":169,"strokeWidth":1.2,"opacity":1},
"encoding":{
"x":{"field":"x","type":"quantitative","scale":{"domain":[50,150],"nice":false,"zero":false},"axis":{"orient":"bottom","values":[50,100,150],"labelAngle":270,"labelPadding":11,"labelExpr":"datum.value==100?'':datum.label","title":["Cut-off","precision"],"titleAngle":270,"titleX":0,"titleY":81,"titleAlign":"center","titleBaseline":"top","titleLineHeight":20}},
"y":{"field":"score","type":"quantitative","scale":{"domain":[0,0.743],"nice":false},"axis":null},
"stroke":{"field":"window","type":"nominal","title":"Context window size:","scale":{"domain":["1+1","2+2","4+4","8+8"],"range":["#ff0000","#00f0f0","#0000ff","#ff00ff"]}},
"fill":{"field":"window","type":"nominal","title":"Context window size:","scale":{"domain":["1+1","2+2","4+4","8+8"],"range":["transparent","transparent","#0000ff","transparent"]}},
"shape":{"field":"window","type":"nominal","title":"Context window size:","scale":{"domain":["1+1","2+2","4+4","8+8"],"range":["M-0.5,-0.5L0.5,0.5M-0.5,0.5L0.5,-0.5M-0.6,0L0.6,0M0,-0.6L0,0.6M-0.25,-0.25L0.25,-0.25L0.25,0.25L-0.25,0.25Z","M0.55,0A0.55,0.55,0,1,1,-0.55,0A0.55,0.55,0,1,1,0.55,0ZM0.08,0A0.08,0.08,0,1,1,-0.08,0A0.08,0.08,0,1,1,0.08,0Z","M0.25,0A0.25,0.25,0,1,1,-0.25,0A0.25,0.25,0,1,1,0.25,0Z","M-1,0L1,0M0,-1L0,1"]}}}},
{"mark":{"type":"point","opacity":0},"encoding":{"x":{"field":"x","type":"quantitative","axis":{"orient":"top","values":[100],"labels":false,"title":null}}}}
],"resolve":{"axis":{"x":"independent"}}},
{"width":4,"height":238,"data":{"values":[{}]},"mark":{"type":"point","opacity":0},"encoding":{},"view":{"stroke":null}},
{"title":{"text":" ","subtitle":"With case particles"},"width":134.5,"height":238,"data":{"name":"d"},
"transform":[{"filter":"datum.cat=='BP'&&datum.method=='case'&&datum.type=='recall'"},{"fold":["1+1","2+2","4+4","8+8"],"as":["window","score"]}],
"layer":[
{"mark":{"type":"point","filled":true,"size":169,"strokeWidth":1.2,"opacity":1},
"encoding":{
"x":{"field":"x","type":"quantitative","scale":{"domain":[1,10],"nice":false,"zero":false},"axis":{"orient":"bottom","values":[2,4,6,8],"labelExpr":"datum.value+'n'","title":"Cut-off recall","titleX":0,"titleY":58,"titleAlign":"left","titleBaseline":"alphabetic","titleAnchor":"start"}},
"y":{"field":"score","type":"quantitative","scale":{"domain":[0,0.743],"nice":false},"axis":{"orient":"left","values":[0.1,0.2,0.3,0.4,0.5,0.6,0.7],"labels":false,"title":null}},
"stroke":{"field":"window","type":"nominal","title":"Context window size:","scale":{"domain":["1+1","2+2","4+4","8+8"],"range":["#ff0000","#00f0f0","#0000ff","#ff00ff"]}},
"fill":{"field":"window","type":"nominal","title":"Context window size:","scale":{"domain":["1+1","2+2","4+4","8+8"],"range":["transparent","transparent","#0000ff","transparent"]}},
"shape":{"field":"window","type":"nominal","title":"Context window size:","scale":{"domain":["1+1","2+2","4+4","8+8"],"range":["M-0.5,-0.5L0.5,0.5M-0.5,0.5L0.5,-0.5M-0.6,0L0.6,0M0,-0.6L0,0.6M-0.25,-0.25L0.25,-0.25L0.25,0.25L-0.25,0.25Z","M0.55,0A0.55,0.55,0,1,1,-0.55,0A0.55,0.55,0,1,1,0.55,0ZM0.08,0A0.08,0.08,0,1,1,-0.08,0A0.08,0.08,0,1,1,0.08,0Z","M0.25,0A0.25,0.25,0,1,1,-0.25,0A0.25,0.25,0,1,1,0.25,0Z","M-1,0L1,0M0,-1L0,1"]}}}},
{"mark":{"type":"point","opacity":0},"encoding":{"x":{"field":"x","type":"quantitative","axis":{"orient":"top","values":[2,4,6,8],"labels":false,"title":null}},"y":{"field":"score","type":"quantitative","axis":{"orient":"right","values":[0.1,0.2,0.3,0.4,0.5,0.6,0.7],"labels":false,"title":null}}}}
],"resolve":{"axis":{"x":"independent","y":"independent"}}},
{"width":30,"height":238,"data":{"name":"d"},
"transform":[{"filter":"datum.cat=='BP'&&datum.method=='case'&&datum.type=='precision'"},{"fold":["1+1","2+2","4+4","8+8"],"as":["window","score"]}],
"layer":[
{"mark":{"type":"point","filled":true,"size":169,"strokeWidth":1.2,"opacity":1},
"encoding":{
"x":{"field":"x","type":"quantitative","scale":{"domain":[50,150],"nice":false,"zero":false},"axis":{"orient":"bottom","values":[50,100,150],"labelAngle":270,"labelPadding":11,"labelExpr":"datum.value==100?'':datum.label","title":["Cut-off","precision"],"titleAngle":270,"titleX":0,"titleY":81,"titleAlign":"center","titleBaseline":"top","titleLineHeight":20}},
"y":{"field":"score","type":"quantitative","scale":{"domain":[0,0.743],"nice":false},"axis":null},
"stroke":{"field":"window","type":"nominal","title":"Context window size:","scale":{"domain":["1+1","2+2","4+4","8+8"],"range":["#ff0000","#00f0f0","#0000ff","#ff00ff"]}},
"fill":{"field":"window","type":"nominal","title":"Context window size:","scale":{"domain":["1+1","2+2","4+4","8+8"],"range":["transparent","transparent","#0000ff","transparent"]}},
"shape":{"field":"window","type":"nominal","title":"Context window size:","scale":{"domain":["1+1","2+2","4+4","8+8"],"range":["M-0.5,-0.5L0.5,0.5M-0.5,0.5L0.5,-0.5M-0.6,0L0.6,0M0,-0.6L0,0.6M-0.25,-0.25L0.25,-0.25L0.25,0.25L-0.25,0.25Z","M0.55,0A0.55,0.55,0,1,1,-0.55,0A0.55,0.55,0,1,1,0.55,0ZM0.08,0A0.08,0.08,0,1,1,-0.08,0A0.08,0.08,0,1,1,0.08,0Z","M0.25,0A0.25,0.25,0,1,1,-0.25,0A0.25,0.25,0,1,1,0.25,0Z","M-1,0L1,0M0,-1L0,1"]}}}},
{"mark":{"type":"point","opacity":0},"encoding":{"x":{"field":"x","type":"quantitative","axis":{"orient":"top","values":[100],"labels":false,"title":null}}}}
],"resolve":{"axis":{"x":"independent"}}}
],
"config":{
"font":"DejaVu Serif",
"view":{"stroke":"#000","strokeWidth":1},
"axis":{"domain":false,"grid":false,"tickSize":-5,"tickColor":"#000","tickWidth":1,"labelFont":"DejaVu Serif","labelFontSize":17,"labelColor":"#000","labelFlush":false,"labelOverlap":false,"titleFont":"DejaVu Serif","titleFontSize":17,"titleFontWeight":"normal","titleColor":"#000"},
"axisX":{"labelPadding":12},
"axisY":{"labelPadding":14},
"title":{"font":"DejaVu Serif","fontSize":19,"fontWeight":"bold","anchor":"start","frame":"group","color":"#000","offset":4,"subtitleFont":"DejaVu Serif","subtitleFontSize":17,"subtitleFontWeight":"normal","subtitleColor":"#000","subtitlePadding":6}
}
}
